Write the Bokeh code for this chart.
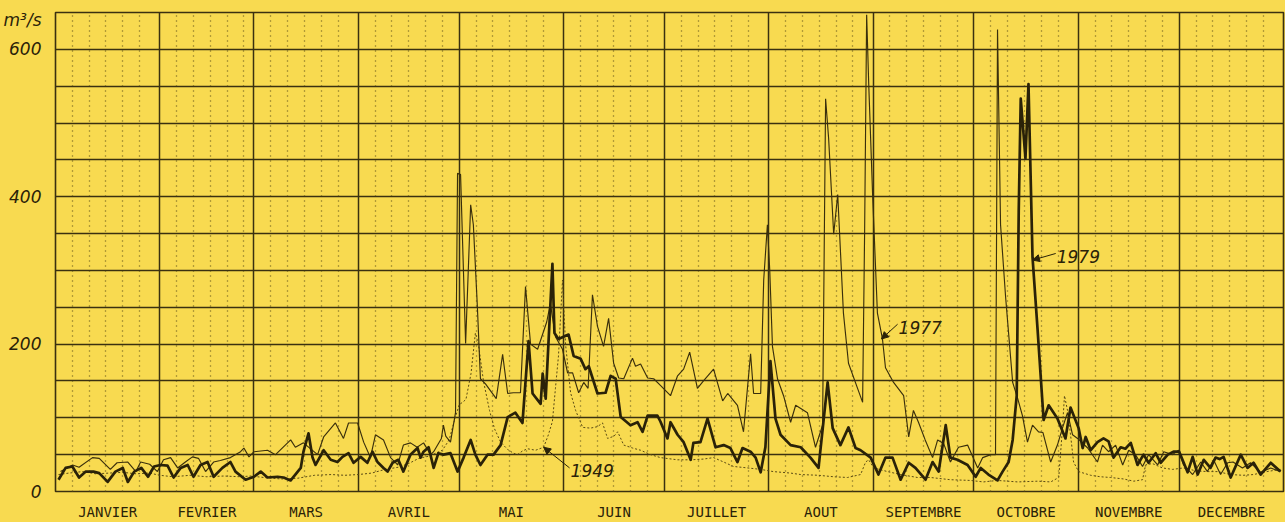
from bokeh.plotting import figure
from bokeh.models import (Label, Arrow, NormalHead, Grid, FixedTicker, Range1d, LinearAxis,
                          GlobalInlineStyleSheet)
from bokeh.embed import file_html
from bokeh.resources import INLINE

# ---- data (day of year, discharge m3/s) ----
months = ["JANVIER", "FEVRIER", "MARS", "AVRIL", "MAI", "JUIN", "JUILLET",
          "AOUT", "SEPTEMBRE", "OCTOBRE", "NOVEMBRE", "DECEMBRE"]
month_days = [31, 28, 31, 30, 31, 30, 31, 31, 30, 31, 30, 31]
y_ticks = [0, 200, 400, 600]
unit_label = "m³/s"

day_1979 = [0.9, 3, 5, 7, 9, 11.3, 13, 15.5, 17.8, 20, 21.5, 23.4, 25.5, 27.5, 29.3, 31.2, 33.3, 35.1, 37.2, 39.3,
            41, 43.1, 45.2, 47, 49.6, 52, 53.5, 56.5, 59, 61, 63, 66, 67.8, 69.9, 72.9, 73.7, 75.2, 76.4, 77.3, 79.7,
            81.8, 83.8, 85.3, 87.1, 88.6, 90.7, 92.7, 94.2, 95.7, 97.5, 98.7, 100.2, 101.9, 103.4, 105.5, 107.6, 108.5,
            109.4, 110.9, 112.4, 113.8, 115.3, 117.4, 119.5, 121.3, 123.4, 124.8, 126.3, 128.4, 130.2, 132.3, 134.4,
            136.7, 138.8, 140.6, 141.8, 144.2, 144.8, 145.7, 147.7, 148.3, 149.5, 152.5, 154, 156.1, 157.5, 158.5,
            161.1, 163.5, 165, 166.5, 168, 170.9, 173, 174.5, 176, 178.9, 179.8, 181.9, 182.8, 184.9, 186.7, 188.8,
            189.6, 191.7, 193.8, 196.2, 198.6, 200.6, 202.7, 204.2, 206.6, 208.1, 209.6, 211, 212.5, 214, 215.5,
            218.5, 221.5, 224.4, 226.8, 229.5, 231, 233.3, 235.7, 237.8, 239.3, 242.3, 244.6, 246.7, 248.8, 251.2,
            253.6, 255.6, 258.6, 260.7, 262.5, 264.6, 266, 268.1, 271.1, 273.5, 275, 277.3, 280, 281.5, 283.3, 284.5,
            285.7, 286.3, 286.9, 288.3, 289.2, 290.4, 291.9, 293.7, 295.2, 297.8, 300.2, 301.7, 304.1, 305.3, 306.2,
            307.7, 309.7, 311.5, 313, 314.5, 316.6, 318, 319.6, 321.6, 323.4, 324.9, 327, 328.5, 330.6, 332.3, 334,
            336.5, 338, 339.5, 341.3, 343.3, 344.8, 346, 347.2, 349.3, 352.3, 354.3, 356.1, 358.2, 361.2, 364.1]
q_1979 = [16, 32, 34, 19, 27, 27, 25, 13, 27, 32, 13, 27, 32, 20, 34, 36, 35, 19, 32, 36,
          20, 36, 40, 20, 32, 40, 27, 16, 20, 27, 19, 20, 19, 15, 32, 54, 79, 46, 36, 56,
          43, 40, 47, 52, 39, 47, 39, 54, 40, 32, 27, 39, 43, 27, 50, 59, 46,
          54, 60, 32, 52, 50, 52, 27, 46, 70, 50, 36, 50, 50, 63, 101,
          107, 93, 204, 133, 119, 160, 126, 309, 215, 207, 213, 184, 180, 166, 170,
          133, 134, 157, 153, 101, 90, 94, 81, 103, 103, 95, 72, 94, 77, 67, 43,
          66, 67, 99, 60, 63, 59, 40, 59, 54, 46, 26, 60, 177, 99, 77,
          63, 60, 46, 32, 148, 86, 63, 87, 59, 56, 46, 23, 46, 46, 16,
          39, 32, 16, 40, 27, 90, 46, 43, 36, 20, 32, 23, 15, 27, 40, 70,
          130, 380, 533, 452, 553, 318, 220, 97, 117, 99, 72, 114, 86, 59, 74,
          56, 67, 72, 68, 46, 60, 58, 66, 36, 50, 39, 52, 39, 50, 54, 54,
          26, 47, 23, 43, 32, 46, 44, 47, 19, 50, 32, 39, 23, 39, 27]

day_1977 = [1.5, 5.1, 7, 11, 13, 16.3, 18.3, 21.5, 23.9, 25.3, 28, 30.3, 32.1, 34.2, 36.3, 38.6, 40.7, 42.5, 44.6,
            47, 49, 52, 55, 56, 57.5, 59, 63, 65.4, 69.9, 71.3, 73.7, 77.9, 79.7, 83.2, 85.6, 87.1, 89.8, 91.6, 93.6,
            95.1, 97.5, 99.6, 101.7, 103.4, 105.5, 107.5, 109.4, 111.5, 112.4, 114.7, 115.3, 116, 117.4, 118.9, 119.5,
            120.4, 121.9, 123.4, 124.2, 125.4, 126.3, 127.8, 131, 132.9, 134.4, 136.1, 138.2, 139.7, 141.2, 143.3, 146,
            147.1, 148.6, 150.7, 152.2, 153.7, 155.5, 157, 158.3, 159.6, 161.1, 162.9, 164.4, 165.9, 167.4, 168.9,
            171.5, 172.4, 173.9, 176, 177.8, 179.8, 182.8, 184.9, 186.7, 188.5, 190.8, 192.6, 195.6, 198.3, 199.8,
            202.7, 204.5, 206.6, 207.5, 209.6, 210.5, 211.6, 212.3, 213.1, 214.6, 216.4, 218.5, 220, 223.5, 225.9, 228,
            228.9, 229.8, 231.3, 232.5, 234.2, 235.7, 238.4, 239.9, 240.5, 241.1, 241.7, 242.9, 244.3, 245.8, 246.7,
            249.1, 252.1, 253.6, 255, 256.5, 258.5, 260.7, 262.2, 264, 266, 268.4, 271.1, 274.1, 275.6, 278, 279.4,
            280, 280.9, 282.4, 284.5, 286, 287.4, 288.9, 290.4, 292.2, 293.5, 295.8, 297.8, 299.3, 300.8, 302.3,
            303.8, 306.8, 309.7, 311.2, 313, 315.1, 317.2, 319, 321, 323.1, 324.9, 327.6, 329.4, 332, 333.8, 335.3,
            338, 340.4, 342.4, 344.2, 346.3, 348.4, 350, 352.8, 355.2, 358.2, 361.2, 364.1]
q_1977 = [27, 36, 33, 46, 45, 30, 39, 40, 27, 40, 37, 27, 43, 46, 32, 40, 47, 45, 27,
          40, 42, 46, 54, 59, 47, 54, 56, 50, 70, 60, 66, 50, 74, 93, 72, 93, 93, 67, 46,
          77, 70, 46, 36, 63, 66, 60, 66, 50, 54, 72, 90, 75, 67, 107, 432,
          430, 201, 389, 362, 250, 153, 146, 126, 186, 133, 134, 134, 278, 200, 193, 230,
          255, 210, 193, 161, 161, 134, 148, 140, 267, 224, 197, 235, 174, 154, 153,
          181, 170, 173, 154, 153, 144, 130, 157, 166, 189, 140, 150, 166, 123, 133,
          117, 81, 187, 133, 133, 287, 362, 300, 197, 153, 130, 94, 117, 107, 60, 90,
          533, 479, 349, 403, 242, 174, 140, 121, 354, 647, 555, 399, 242, 207, 168,
          148, 130, 74, 110, 94, 70, 46, 70, 65, 40, 60, 63, 32, 46, 50, 50,
          627, 362, 264, 148, 126, 103, 67, 90, 81, 80, 40, 63, 86, 107, 77,
          72, 59, 40, 63, 54, 63, 36, 56, 50, 34, 50, 36, 54, 50, 56, 36,
          23, 40, 27, 43, 23, 39, 40, 32, 39, 26, 32, 27]

day_1949 = [0.9, 4, 8, 12, 16, 20, 24, 28, 31, 35, 40, 45, 50, 55, 58, 62, 67, 72, 77, 82, 86, 90, 94, 98, 102,
            105, 108, 111, 113, 115, 117, 118.5, 120, 121, 122, 123.5, 124.8, 125.7, 127.2, 129, 130.5, 132.3,
            134.4, 136.1, 137.3, 138.8, 140.3, 142.7, 145.1, 146.5, 147.7, 148.6, 149.5, 150.7, 151.6, 153.1,
            154.6, 156.7, 159, 161.1, 162.6, 164.1, 166, 167.1, 168.9, 171.5, 173.9, 176.9, 179.8, 184.9, 188.8,
            192.6, 195.6, 198.6, 201.5, 205.7, 209.6, 213.4, 218.5, 221.5, 226.8, 231.3, 235.4, 239.3, 240.8,
            241.7, 243.2, 247.3, 251.2, 256.2, 260.1, 266, 272, 275.8, 280, 286, 292, 295.8, 298.2, 299.3, 299.9,
            300.8, 301.7, 302.6, 304.1, 307.7, 310.6, 313.6, 317.5, 320.5, 323.1, 324, 326, 329, 332, 335.3, 339,
            342.5, 345.4, 349.3, 353, 356.1, 360, 364.1]
q_1949 = [23, 25, 27, 24, 25, 26, 24, 25, 22, 20, 22, 20, 21, 20, 21, 19, 17, 18, 22, 23, 22, 23, 25, 30, 33,
          38, 45, 48, 52, 56, 70, 95, 118, 121, 125, 160, 215, 200, 150, 110, 85, 67,
          57, 52, 50, 55, 58, 56, 60, 77, 95, 140, 184, 287, 200, 134,
          110, 87, 86, 88, 93, 72, 75, 81, 63, 59, 56, 50, 46, 43, 43,
          44, 46, 40, 34, 32, 30, 27, 25, 23, 22, 20, 19, 23, 40,
          43, 32, 27, 23, 19, 19, 16, 15, 13, 15, 13, 14, 13, 19, 86, 130,
          110, 77, 40, 27, 22, 20, 19, 17, 14, 16, 36, 38, 32, 30, 32, 28,
          27, 27, 23, 22, 23, 27, 30]

# ---- styling ----
BG = "#F8DA50"
INK = "#2a2208"
GRIDC = "#3a3010"
FONT = "DejaVu Sans"

month_starts = [0]
for d in month_days:
    month_starts.append(month_starts[-1] + d)
minor = [s + k for s in month_starts[:-1] for k in (5, 10, 15, 20, 25)]
mids = [(month_starts[i] + month_starts[i + 1]) / 2 for i in range(12)]

p = figure(width=1285, height=522, output_backend="svg", toolbar_location=None,
           x_axis_type=None, y_axis_type=None,
           x_range=Range1d(0, 365), y_range=Range1d(0, 650),
           min_border_left=55, min_border_right=2, min_border_top=12, min_border_bottom=25,
           background_fill_color=BG, border_fill_color=BG)
p.outline_line_color = GRIDC
p.outline_line_width = 1.6
p.stylesheets = [GlobalInlineStyleSheet(css="html, body { background-color: %s; }" % BG)]

# y axis labels (0..600 plus unit at the top)
yax = LinearAxis(ticker=FixedTicker(ticks=y_ticks + [640]),
                 major_label_overrides={640: unit_label},
                 axis_line_color=None, major_tick_line_color=None, minor_tick_line_color=None,
                 major_label_standoff=8, major_label_text_font=FONT,
                 major_label_text_font_style="italic", major_label_text_font_size="17px",
                 major_label_text_color=INK)
p.add_layout(yax, "left")

# month labels
xax = LinearAxis(ticker=FixedTicker(ticks=mids),
                 major_label_overrides={m: name for m, name in zip(mids, months)},
                 axis_line_color=None, major_tick_line_color=None, minor_tick_line_color=None,
                 major_label_standoff=6, major_label_text_font="DejaVu Sans Mono",
                 major_label_text_font_size="14px", major_label_text_color=INK)
p.add_layout(xax, "below")

p.add_layout(Grid(dimension=0, ticker=FixedTicker(ticks=minor), grid_line_color="#6a5a1c",
                  grid_line_width=1.3, grid_line_dash="1 4"))
p.add_layout(Grid(dimension=0, ticker=FixedTicker(ticks=month_starts), grid_line_color=GRIDC,
                  grid_line_width=1.5))
p.add_layout(Grid(dimension=1, ticker=FixedTicker(ticks=list(range(0, 651, 50))), grid_line_color=GRIDC,
                  grid_line_width=1.5))

p.line(day_1949, q_1949, line_color="#5a4a14", line_width=1.0, line_dash="2 2")
p.line(day_1977, q_1977, line_color="#3a2f0c", line_width=1.15)
p.line(day_1979, q_1979, line_color=INK, line_width=2.7, line_join="round")

# series annotations
ann_text = ["1949", "1977", "1979"]
ann_lbl_x = [153.1, 250.6, 297.6]
ann_lbl_y = [28, 223, 319]
ann_tip_x = [145.1, 245.5, 290.4]
ann_tip_y = [60, 207, 314]
for t, lx, ly, tx, ty in zip(ann_text, ann_lbl_x, ann_lbl_y, ann_tip_x, ann_tip_y):
    p.add_layout(Label(x=lx, y=ly, text=t, text_align="left", text_baseline="middle",
                       text_font=FONT, text_font_style="italic", text_font_size="17px",
                       text_color=INK))
    p.add_layout(Arrow(x_start=lx - 0.3, y_start=ly + 4, x_end=tx, y_end=ty, line_color=INK, line_width=1,
                       end=NormalHead(size=7, fill_color=INK, line_color=INK)))

open("out.html", "w").write(file_html(p, INLINE))
